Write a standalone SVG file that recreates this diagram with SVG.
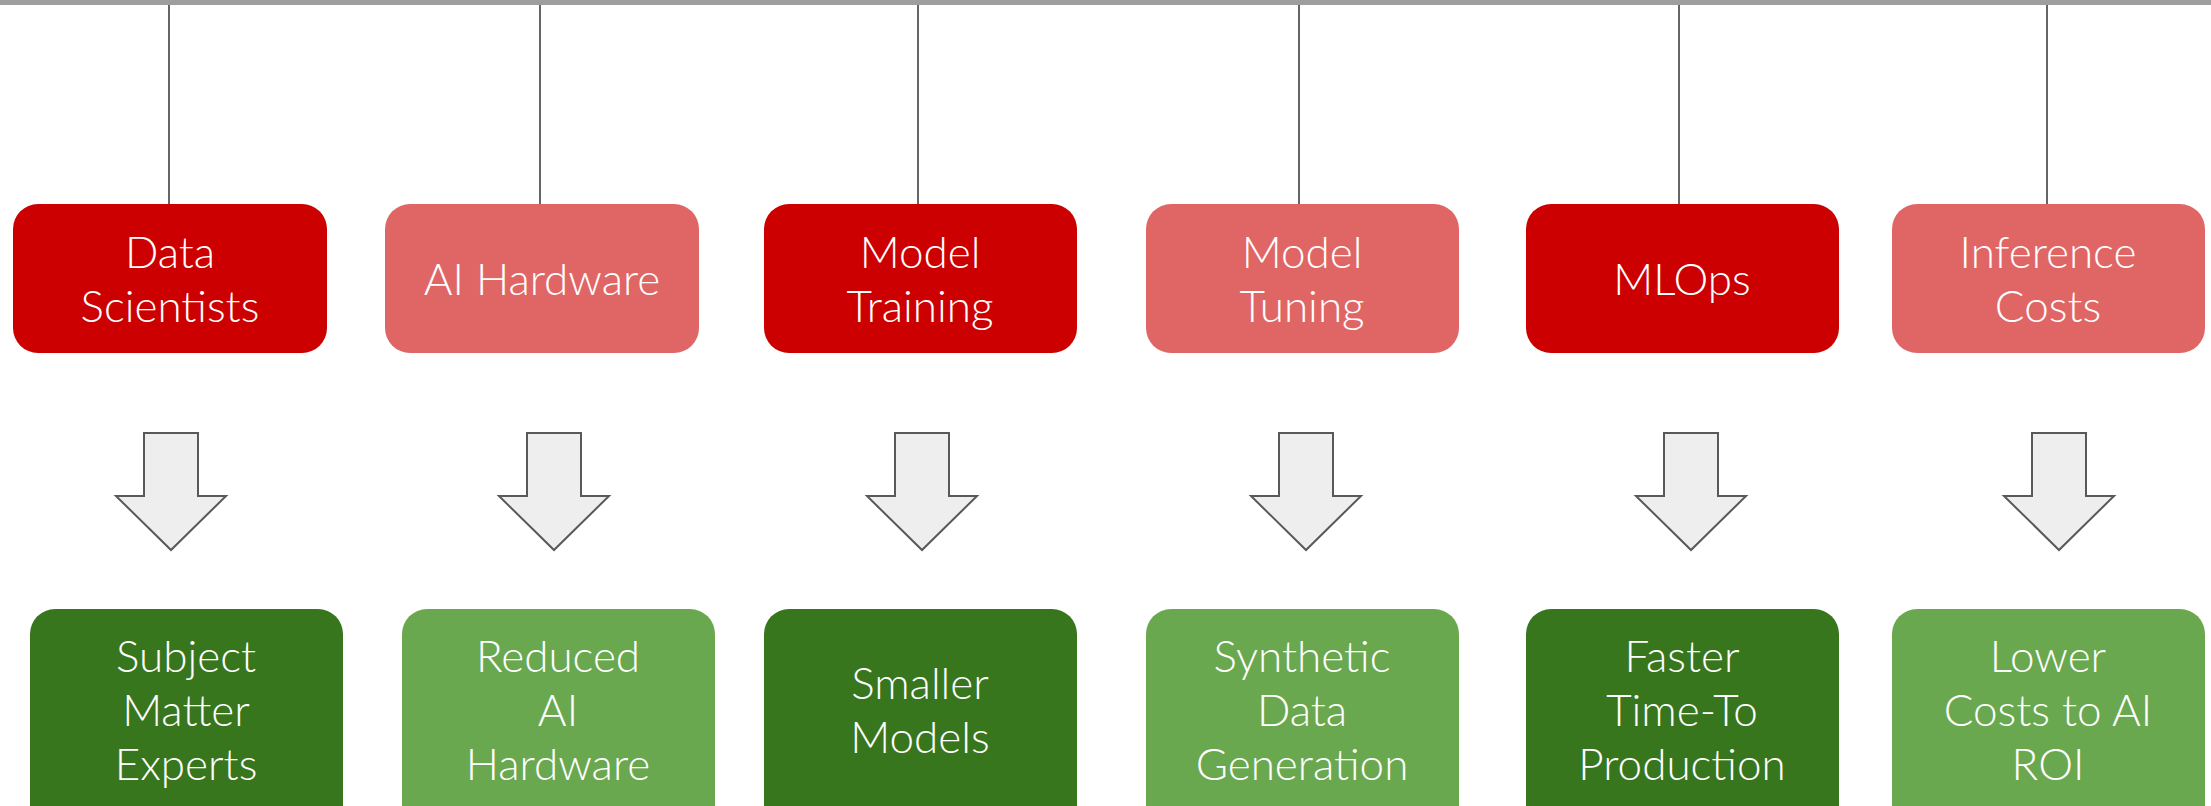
<svg xmlns="http://www.w3.org/2000/svg" width="2211" height="806" viewBox="0 0 2211 806">
<style>
.t{font-family:Lato,"Liberation Sans",sans-serif;font-size:44px;fill:#ffffff;text-anchor:middle;font-weight:300}
.dr{fill:#cc0000}.lr{fill:#e06666}.dg{fill:#38761d}.lg{fill:#6aa84f}
.ln{stroke:#666666;stroke-width:2;fill:none}
.ar{fill:#eeeeee;stroke:#595959;stroke-width:2;stroke-linejoin:miter}
</style>
<defs>
<path id="arrow" d="M-27,0 H27 V63 H55 L0,117 L-55,63 H-27 Z"/>
</defs>
<rect x="0" y="0" width="2211" height="5" fill="#9e9e9e"/>
<g id="connectors">
<line class="ln" x1="169" y1="5" x2="169" y2="204"/>
<line class="ln" x1="540" y1="5" x2="540" y2="204"/>
<line class="ln" x1="918" y1="5" x2="918" y2="204"/>
<line class="ln" x1="1299" y1="5" x2="1299" y2="204"/>
<line class="ln" x1="1679" y1="5" x2="1679" y2="204"/>
<line class="ln" x1="2047" y1="5" x2="2047" y2="204"/>
<use href="#arrow" class="ar" x="171" y="433"/>
<use href="#arrow" class="ar" x="554" y="433"/>
<use href="#arrow" class="ar" x="922" y="433"/>
<use href="#arrow" class="ar" x="1306" y="433"/>
<use href="#arrow" class="ar" x="1691" y="433"/>
<use href="#arrow" class="ar" x="2059" y="433"/>
</g>
<g id="n-data-scientists"><rect class="dr" x="13" y="204" width="314" height="149" rx="25"/><text class="t" x="170" y="268">Data</text><text class="t" x="170" y="322">Scientists</text></g>
<g id="n-ai-hardware"><rect class="lr" x="385" y="204" width="314" height="149" rx="25"/><text class="t" x="542" y="295">AI Hardware</text></g>
<g id="n-model-training"><rect class="dr" x="764" y="204" width="313" height="149" rx="25"/><text class="t" x="920" y="268">Model</text><text class="t" x="920" y="322">Training</text></g>
<g id="n-model-tuning"><rect class="lr" x="1146" y="204" width="313" height="149" rx="25"/><text class="t" x="1302" y="268">Model</text><text class="t" x="1302" y="322">Tuning</text></g>
<g id="n-mlops"><rect class="dr" x="1526" y="204" width="313" height="149" rx="25"/><text class="t" x="1682" y="295">MLOps</text></g>
<g id="n-inference-costs"><rect class="lr" x="1892" y="204" width="313" height="149" rx="25"/><text class="t" x="2048" y="268">Inference</text><text class="t" x="2048" y="322">Costs</text></g>
<g id="n-sme"><rect class="dg" x="30" y="609" width="313" height="230" rx="25"/><text class="t" x="186" y="672">Subject</text><text class="t" x="186" y="726">Matter</text><text class="t" x="186" y="780">Experts</text></g>
<g id="n-reduced-hw"><rect class="lg" x="402" y="609" width="313" height="230" rx="25"/><text class="t" x="558" y="672">Reduced</text><text class="t" x="558" y="726">AI</text><text class="t" x="558" y="780">Hardware</text></g>
<g id="n-smaller-models"><rect class="dg" x="764" y="609" width="313" height="230" rx="25"/><text class="t" x="920" y="699">Smaller</text><text class="t" x="920" y="753">Models</text></g>
<g id="n-synthetic"><rect class="lg" x="1146" y="609" width="313" height="230" rx="25"/><text class="t" x="1302" y="672">Synthetic</text><text class="t" x="1302" y="726">Data</text><text class="t" x="1302" y="780">Generation</text></g>
<g id="n-faster"><rect class="dg" x="1526" y="609" width="313" height="230" rx="25"/><text class="t" x="1682" y="672">Faster</text><text class="t" x="1682" y="726">Time-To</text><text class="t" x="1682" y="780">Production</text></g>
<g id="n-lower-costs"><rect class="lg" x="1892" y="609" width="313" height="230" rx="25"/><text class="t" x="2048" y="672">Lower</text><text class="t" x="2048" y="726">Costs to AI</text><text class="t" x="2048" y="780">ROI</text></g>
</svg>
